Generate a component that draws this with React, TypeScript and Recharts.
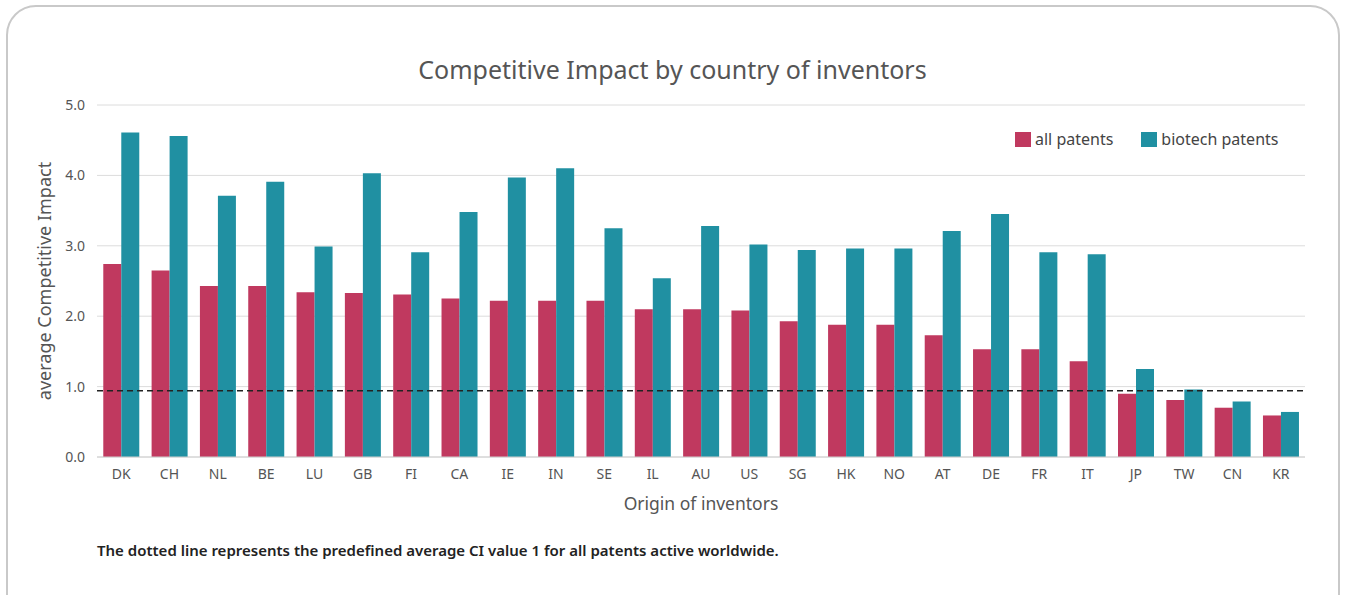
import React from "react";
import {
  Bar,
  BarChart,
  CartesianGrid,
  Label,
  Legend,
  ReferenceLine,
  XAxis,
  YAxis,
} from "recharts";

const countries = [
  "DK", "CH", "NL", "BE", "LU", "GB", "FI", "CA", "IE", "IN", "SE", "IL", "AU",
  "US", "SG", "HK", "NO", "AT", "DE", "FR", "IT", "JP", "TW", "CN", "KR",
];
const allPatents = [
  2.74, 2.65, 2.43, 2.43, 2.34, 2.33, 2.31, 2.25, 2.22, 2.22, 2.22, 2.1, 2.1,
  2.08, 1.93, 1.88, 1.88, 1.73, 1.53, 1.53, 1.36, 0.9, 0.81, 0.7, 0.59,
];
const biotechPatents = [
  4.61, 4.56, 3.71, 3.91, 2.99, 4.03, 2.91, 3.48, 3.97, 4.1, 3.25, 2.54, 3.28,
  3.02, 2.94, 2.96, 2.96, 3.21, 3.45, 2.91, 2.88, 1.25, 0.96, 0.79, 0.64,
];
const yTicks = [0, 1, 2, 3, 4, 5];
const averageLine = 0.94;

const data = countries.map((c, i) => ({
  country: c,
  all: allPatents[i],
  biotech: biotechPatents[i],
}));

const FONT = "'Noto Sans', 'Open Sans', sans-serif";
const PINK = "#c0395f";
const TEAL = "#2090a2";

// legend drawn from the payload so the spacing can match
const renderLegend = (props: any) => {
  const payload = props.payload || [];
  return (
    <div style={{ display: "flex", fontFamily: FONT, fontSize: 16, color: "#444" }}>
      {payload.map((p: any, i: number) => (
        <div key={i} style={{ display: "flex", alignItems: "center", marginRight: 28 }}>
          <span
            style={{
              display: "inline-block",
              width: 16,
              height: 15,
              background: p.color,
              marginRight: 4,
            }}
          />
          <span>{p.value}</span>
        </div>
      ))}
    </div>
  );
};

const App: React.FC = () => {
  return (
    <div
      style={{
        position: "absolute",
        left: 0,
        top: 0,
        width: 1345,
        height: 595,
        background: "#fff",
        overflow: "hidden",
        fontFamily: FONT,
      }}
    >
      <div
        style={{
          position: "absolute",
          left: 6,
          top: 5,
          width: 1330,
          height: 620,
          border: "2px solid #c9c9c9",
          borderRadius: 30,
        }}
      />
      <div
        style={{
          position: "absolute",
          left: 0,
          width: 1345,
          top: 52,
          textAlign: "center",
          fontSize: 25,
          color: "#555",
        }}
      >
        Competitive Impact by country of inventors
      </div>
      <BarChart
        width={1345}
        height={595}
        data={data}
        margin={{ top: 105, right: 40, bottom: 100, left: 0 }}
        barCategoryGap="13%"
        barGap={0}
        style={{ position: "absolute", left: 0, top: 0 }}
      >
        <CartesianGrid vertical={false} stroke="#dcdcdc" />
        <XAxis
          dataKey="country"
          tickLine={false}
          axisLine={{ stroke: "#d0d0d0" }}
          tick={{ fill: "#555", fontSize: 14, fontFamily: FONT }}
          tickMargin={6}
          height={38}
          interval={0}
        >
          <Label
            value="Origin of inventors"
            position="bottom"
            offset={3}
            style={{ fill: "#555", fontSize: 17.5, fontFamily: FONT }}
          />
        </XAxis>
        <YAxis
          width={97}
          domain={[0, 5]}
          ticks={yTicks}
          tickFormatter={(v: number) => v.toFixed(1)}
          axisLine={false}
          tickLine={false}
          tickMargin={6}
          tick={{ fill: "#555", fontSize: 14, fontFamily: FONT }}
        >
          <Label
            value="average Competitive Impact"
            angle={-90}
            position="insideLeft"
            offset={45}
            style={{ textAnchor: "middle", fill: "#555", fontSize: 18, fontFamily: FONT }}
          />
        </YAxis>
        <Legend
          verticalAlign="middle"
          align="center"
          content={renderLegend}
          wrapperStyle={{ top: 128, left: 1015, width: 320 }}
        />
        <Bar dataKey="all" name="all patents" fill={PINK} isAnimationActive={false} />
        <Bar dataKey="biotech" name="biotech patents" fill={TEAL} isAnimationActive={false} />
        <ReferenceLine
          y={averageLine}
          stroke="#222"
          strokeWidth={1.5}
          strokeDasharray="6 4"
        />
      </BarChart>
      <div
        style={{
          position: "absolute",
          left: 97,
          top: 540,
          fontSize: 15,
          fontWeight: 600,
          color: "#222",
        }}
      >
        The dotted line represents the predefined average CI value 1 for all patents active worldwide.
      </div>
    </div>
  );
};

export default App;
